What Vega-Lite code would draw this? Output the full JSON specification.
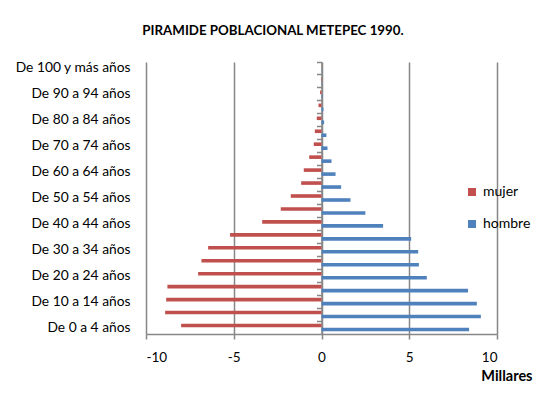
{
  "$schema": "https://vega.github.io/schema/vega-lite/v6.json",
  "autosize": {"type": "none"},
  "width": 351,
  "height": 272,
  "padding": {"left": 146, "top": 62, "right": 55, "bottom": 72},
  "background": "white",
  "config": {
    "view": {"stroke": null},
    "font": "Lato",
    "axis": {"labelFont": "Lato", "titleFont": "Lato"},
    "legend": {"labelFont": "Lato"}
  },
  "title": {
    "text": "PIRAMIDE POBLACIONAL METEPEC 1990.",
    "font": "Lato",
    "fontSize": 13.3,
    "fontWeight": "bold",
    "color": "#000000",
    "anchor": "middle",
    "dx": -48.5,
    "offset": 24
  },
  "data": {
    "values": [
      {"edad": "De 100 y más años", "sexo": "mujer", "valor": -0.01},
      {"edad": "De 100 y más años", "sexo": "hombre", "valor": 0.01},
      {"edad": "De 95 a 99 años", "sexo": "mujer", "valor": -0.03},
      {"edad": "De 95 a 99 años", "sexo": "hombre", "valor": 0.02},
      {"edad": "De 90 a 94 años", "sexo": "mujer", "valor": -0.08},
      {"edad": "De 90 a 94 años", "sexo": "hombre", "valor": 0.05},
      {"edad": "De 85 a 89 años", "sexo": "mujer", "valor": -0.17},
      {"edad": "De 85 a 89 años", "sexo": "hombre", "valor": 0.11},
      {"edad": "De 80 a 84 años", "sexo": "mujer", "valor": -0.27},
      {"edad": "De 80 a 84 años", "sexo": "hombre", "valor": 0.15},
      {"edad": "De 75 a 79 años", "sexo": "mujer", "valor": -0.38},
      {"edad": "De 75 a 79 años", "sexo": "hombre", "valor": 0.28},
      {"edad": "De 70 a 74 años", "sexo": "mujer", "valor": -0.44},
      {"edad": "De 70 a 74 años", "sexo": "hombre", "valor": 0.34},
      {"edad": "De 65 a 69 años", "sexo": "mujer", "valor": -0.70},
      {"edad": "De 65 a 69 años", "sexo": "hombre", "valor": 0.57},
      {"edad": "De 60 a 64 años", "sexo": "mujer", "valor": -1.01},
      {"edad": "De 60 a 64 años", "sexo": "hombre", "valor": 0.80},
      {"edad": "De 55 a 59 años", "sexo": "mujer", "valor": -1.16},
      {"edad": "De 55 a 59 años", "sexo": "hombre", "valor": 1.12},
      {"edad": "De 50 a 54 años", "sexo": "mujer", "valor": -1.75},
      {"edad": "De 50 a 54 años", "sexo": "hombre", "valor": 1.65},
      {"edad": "De 45 a 49 años", "sexo": "mujer", "valor": -2.32},
      {"edad": "De 45 a 49 años", "sexo": "hombre", "valor": 2.50},
      {"edad": "De 40 a 44 años", "sexo": "mujer", "valor": -3.38},
      {"edad": "De 40 a 44 años", "sexo": "hombre", "valor": 3.51},
      {"edad": "De 35 a 39 años", "sexo": "mujer", "valor": -5.21},
      {"edad": "De 35 a 39 años", "sexo": "hombre", "valor": 5.11},
      {"edad": "De 30 a 34 años", "sexo": "mujer", "valor": -6.46},
      {"edad": "De 30 a 34 años", "sexo": "hombre", "valor": 5.51},
      {"edad": "De 25 a 29 años", "sexo": "mujer", "valor": -6.84},
      {"edad": "De 25 a 29 años", "sexo": "hombre", "valor": 5.55},
      {"edad": "De 20 a 24 años", "sexo": "mujer", "valor": -7.03},
      {"edad": "De 20 a 24 años", "sexo": "hombre", "valor": 6.00},
      {"edad": "De 15 a 19 años", "sexo": "mujer", "valor": -8.78},
      {"edad": "De 15 a 19 años", "sexo": "hombre", "valor": 8.35},
      {"edad": "De 10 a 14 años", "sexo": "mujer", "valor": -8.85},
      {"edad": "De 10 a 14 años", "sexo": "hombre", "valor": 8.85},
      {"edad": "De 5 a 9 años", "sexo": "mujer", "valor": -8.91},
      {"edad": "De 5 a 9 años", "sexo": "hombre", "valor": 9.08},
      {"edad": "De 0 a 4 años", "sexo": "mujer", "valor": -8.00},
      {"edad": "De 0 a 4 años", "sexo": "hombre", "valor": 8.41}
    ]
  },
  "encoding": {
    "y": {
      "field": "edad",
      "type": "nominal",
      "sort": null,
      "scale": {"paddingInner": 0, "paddingOuter": 0}
    }
  },
  "layer": [
    {
      "mark": {"type": "bar", "height": 3.6},
      "encoding": {
        "y": {
          "field": "edad",
          "type": "nominal",
          "sort": null,
          "axis": {
            "title": null,
            "domain": false,
            "ticks": false,
            "labelPadding": 16,
            "labelFontSize": 13.8,
            "labelColor": "#000000",
            "values": ["De 100 y más años", "De 90 a 94 años", "De 80 a 84 años", "De 70 a 74 años", "De 60 a 64 años", "De 50 a 54 años", "De 40 a 44 años", "De 30 a 34 años", "De 20 a 24 años", "De 10 a 14 años", "De 0 a 4 años"]
          }
        },
        "x": {
          "field": "valor",
          "type": "quantitative",
          "scale": {"domain": [-10, 10], "nice": false},
          "axis": {
            "values": [-10, -5, 0, 5, 10],
            "labelExpr": "'' + datum.value",
            "grid": true,
            "gridColor": "#878787",
            "gridWidth": 1.5,
            "domainColor": "#878787",
            "domainWidth": 1.5,
            "tickColor": "#878787",
            "tickWidth": 1.5,
            "tickSize": 5,
            "labelFontSize": 13.5,
            "labelColor": "#000000",
            "labelPadding": 11,
            "title": "Millares",
            "titleFontSize": 14.5,
            "titleFontWeight": "bold",
            "titleColor": "#000000",
            "titleAlign": "right",
            "titleAnchor": null,
            "titleX": 386,
            "titleY": 42,
            "titleBaseline": "middle"
          }
        },
        "yOffset": {
          "field": "sexo",
          "type": "nominal",
          "sort": ["mujer", "hombre"],
          "scale": {"paddingInner": 0.1, "paddingOuter": 0.67}
        },
        "color": {
          "field": "sexo",
          "type": "nominal",
          "scale": {"domain": ["mujer", "hombre"], "range": ["#C0504D", "#4F81BD"]},
          "legend": {
            "title": null,
            "orient": "none",
            "legendX": 319,
            "legendY": 123,
            "symbolType": "square",
            "symbolSize": 64,
            "symbolStrokeWidth": 0,
            "labelFontSize": 14,
            "labelColor": "#000000",
            "labelOffset": 4,
            "rowPadding": 18,
            "padding": 0
          }
        }
      }
    },
    {
      "mark": {"type": "bar", "opacity": 0},
      "encoding": {
        "y": {
          "field": "edad",
          "type": "nominal",
          "sort": null,
          "axis": {
            "orient": "left",
            "offset": -175.5,
            "title": null,
            "labels": false,
            "bandPosition": 0,
            "domainColor": "#878787",
            "domainWidth": 1.5,
            "tickColor": "#878787",
            "tickWidth": 1.5,
            "tickSize": 5
          }
        },
        "x": {"field": "valor", "type": "quantitative"}
      }
    }
  ],
  "resolve": {"axis": {"y": "independent"}}
}
